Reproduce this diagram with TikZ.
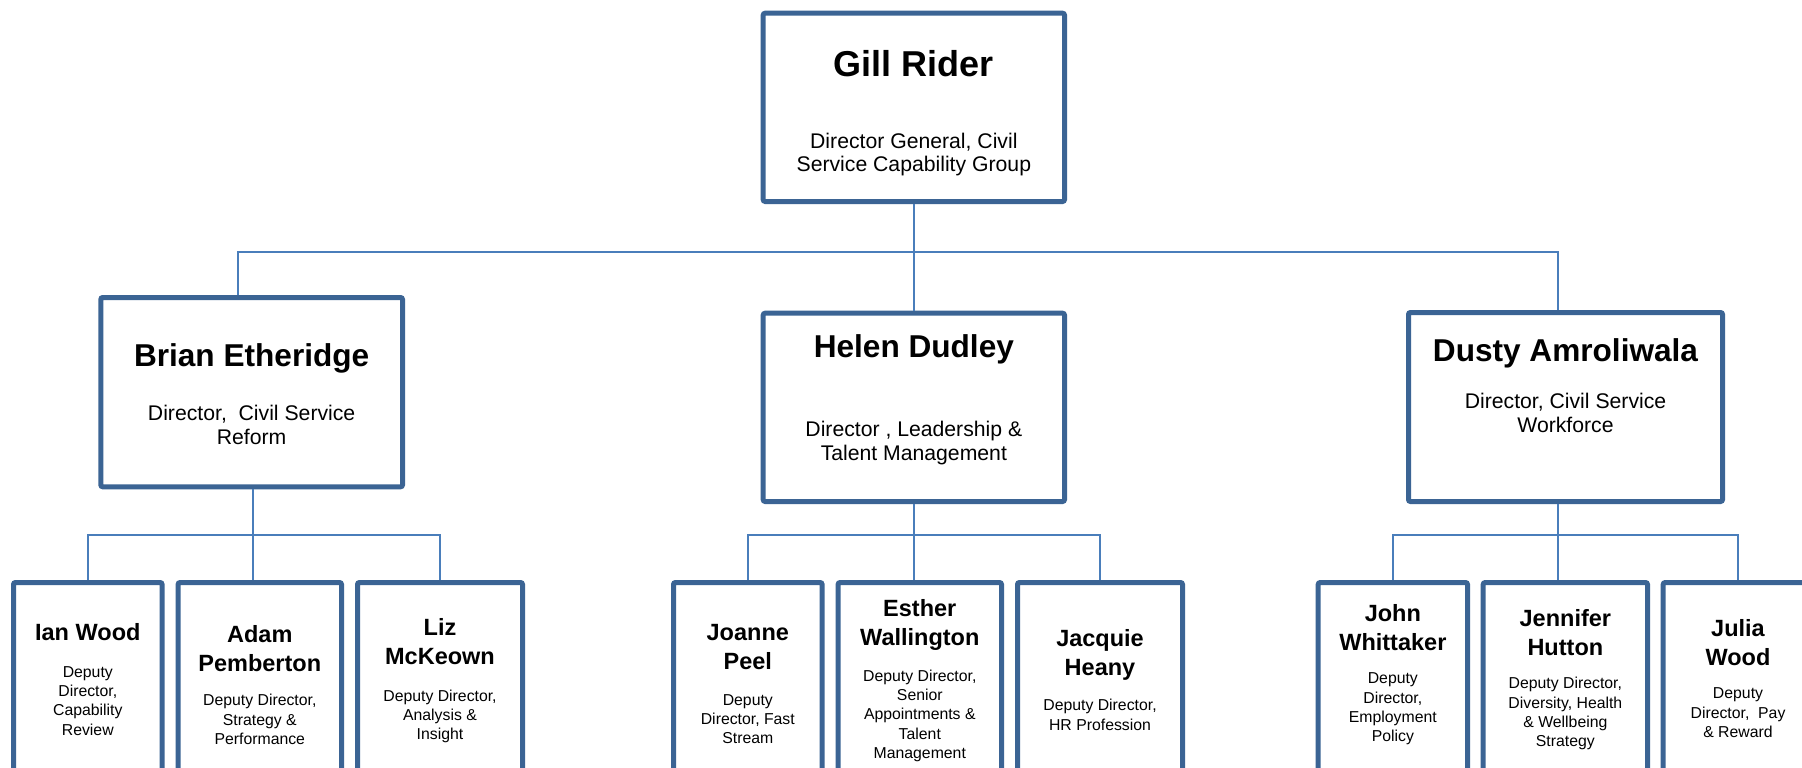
\documentclass[tikz,border=0pt]{standalone}
\usepackage{fontspec}
\setmainfont{Liberation Sans}
\definecolor{boxblue}{HTML}{3B6494}
\definecolor{lineblue}{HTML}{4A7EBB}
\begin{document}
\begin{tikzpicture}[x=1pt,y=-1pt,
  box/.style={draw=boxblue, line width=5pt, rounded corners=2pt, fill=white, inner sep=0pt, anchor=center},
  conn/.style={draw=lineblue, line width=2pt},
  txt/.style={anchor=base, inner sep=0pt, align=center},
  bignm/.style={txt, font=\fontsize{36}{40}\selectfont\bfseries},
  dirnm/.style={txt, font=\fontsize{31.6}{36}\selectfont\bfseries},
  dirds/.style={txt, font=\fontsize{21.2}{24.7}\selectfont},
  ddnm/.style={txt, font=\fontsize{23.5}{29}\selectfont\bfseries},
  ddds/.style={txt, font=\fontsize{15.8}{19.3}\selectfont},
]
% text nodes are anchored at the baseline of their LAST line
\path[use as bounding box, fill=white] (0,0) rectangle (1802,768);
\clip (0,0) rectangle (1802,768);

% boxes
\node[box, minimum width=301.3pt, minimum height=188.3pt] (gill) at (913.85,107.35) {};
\node[box, minimum width=301.7pt, minimum height=189.3pt] (brian) at (251.65,392.15) {};
\node[box, minimum width=301.3pt, minimum height=188.3pt] (helen) at (913.85,407.35) {};
\node[box, minimum width=314pt, minimum height=189pt] (dusty) at (1565.5,407) {};

\node[box, minimum width=148.6pt, minimum height=237.5pt] (ian) at (87.8,701.25) {};
\node[box, minimum width=163.4pt, minimum height=237.5pt] (adam) at (259.8,701.25) {};
\node[box, minimum width=165pt, minimum height=237.5pt] (liz) at (440,701.25) {};
\node[box, minimum width=148.6pt, minimum height=237.5pt] (joanne) at (747.8,701.25) {};
\node[box, minimum width=163.4pt, minimum height=237.5pt] (esther) at (919.8,701.25) {};
\node[box, minimum width=165pt, minimum height=237.5pt] (jacquie) at (1100,701.25) {};
\node[box, minimum width=149.3pt, minimum height=237.5pt] (john) at (1392.85,701.25) {};
\node[box, minimum width=164.3pt, minimum height=237.5pt] (jennifer) at (1565.35,701.25) {};
\node[box, minimum width=149.6pt, minimum height=237.5pt] (julia) at (1738,701.25) {};

% connectors
\coordinate (busA) at (913,252);
\draw[conn] (gill.south) -- (helen.north);
\draw[conn] ([xshift=-13.7pt]brian.north) |- (busA) -| ([xshift=-7.8pt]dusty.north);

\coordinate (brianb) at ([xshift=1pt]brian.south);
\coordinate (busL) at (253,535);
\draw[conn] (brianb) -- (brianb |- adam.north);
\draw[conn] (ian.north) |- (busL) -| (liz.north);

\coordinate (busM) at (913,535);
\draw[conn] (helen.south) -- (helen.south |- esther.north);
\draw[conn] (joanne.north) |- (busM) -| (jacquie.north);

\coordinate (dustyb) at ([xshift=-7.8pt]dusty.south);
\coordinate (busR) at (1557.7,535);
\draw[conn] (dustyb) -- (dustyb |- jennifer.north);
\draw[conn] (john.north) |- (busR) -| (julia.north);

% texts
\node[bignm] (gillN) at (913.85,77) {Gill Rider};
\node[txt, font=\fontsize{21.2}{23}\selectfont] (gillD) at (913.85,171) {Director General, Civil\\Service Capability Group};

\node[dirnm] (brianN) at (251.65,366) {Brian Etheridge};
\node[dirds] (brianD) at (251.65,444.7) {Director,~ Civil Service\\Reform};

\node[dirnm] (helenN) at (913.85,357) {Helen Dudley};
\node[dirds] (helenD) at (913.85,460.7) {Director , Leadership \&\\Talent Management};

\node[dirnm] (dustyN) at (1565.5,361.7) {Dusty Amroliwala};
\node[dirds] (dustyD) at (1565.5,432.7) {Director, Civil Service\\Workforce};

\node[ddnm] (ianN) at (87.8,640.5) {Ian Wood};
\node[ddds] (ianD) at (87.8,735) {Deputy\\Director,\\Capability\\Review};

\node[ddnm] (adamN) at (259.8,671.5) {Adam\\Pemberton};
\node[ddds] (adamD) at (259.8,744.5) {Deputy Director,\\Strategy \&\\Performance};

\node[ddnm] (lizN) at (440,664.6) {Liz\\McKeown};
\node[ddds] (lizD) at (440,739.7) {Deputy Director,\\Analysis \&\\Insight};

\node[ddnm] (joanneN) at (747.8,669.8) {Joanne\\Peel};
\node[ddds] (joanneD) at (747.8,743.8) {Deputy\\Director, Fast\\Stream};

\node[ddnm] (estherN) at (919.8,645.7) {Esther\\Wallington};
\node[ddds] (estherD) at (919.8,758.3) {Deputy Director,\\Senior\\Appointments \&\\Talent\\Management};

\node[ddnm] (jacquieN) at (1100,675) {Jacquie\\Heany};
\node[ddds] (jacquieD) at (1100,730) {Deputy Director,\\HR Profession};

\node[ddnm] (johnN) at (1392.85,650) {John\\Whittaker};
\node[ddds] (johnD) at (1392.85,741.7) {Deputy\\Director,\\Employment\\Policy};

\node[ddnm] (jenniferN) at (1565.35,655) {Jennifer\\Hutton};
\node[ddds] (jenniferD) at (1565.35,746.7) {Deputy Director,\\Diversity, Health\\\& Wellbeing\\Strategy};

\node[ddnm] (juliaN) at (1738,665.7) {Julia\\Wood};
\node[ddds] (juliaD) at (1738,737.3) {Deputy\\Director,~ Pay\\\& Reward};
\end{tikzpicture}
\end{document}
